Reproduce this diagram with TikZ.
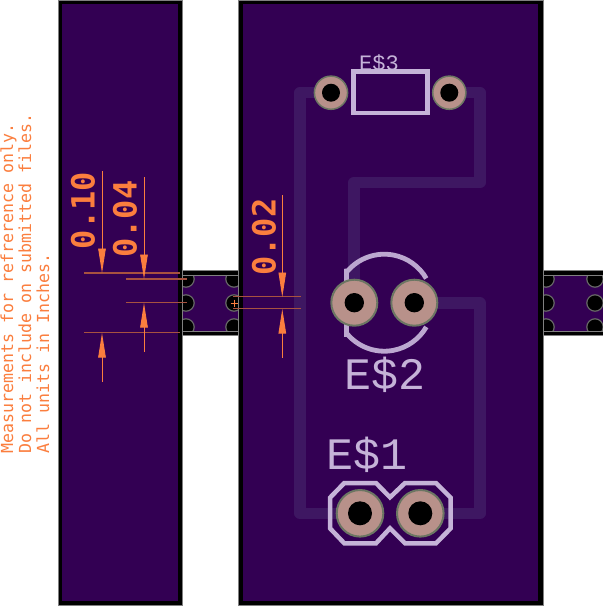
\documentclass[tikz,border=0pt]{standalone}
\usepackage{fontspec}
\usetikzlibrary{arrows.meta}
\newfontfamily\silkfont{Liberation Mono}
\newfontfamily\dimfont[BoldFont={DejaVu Sans Mono Bold}]{DejaVu Sans Mono}
\definecolor{board}{HTML}{330053}
\definecolor{tracec}{HTML}{3E1762}
\definecolor{silk}{HTML}{C5B3D8}
\definecolor{silkarc}{HTML}{BCA8D0}
\definecolor{padc}{HTML}{B8918A}
\definecolor{padedge}{HTML}{6C7663}
\definecolor{orangec}{HTML}{FB7E3E}
\definecolor{extc}{HTML}{A8523F}
\definecolor{edgec}{HTML}{808080}
\definecolor{bitec}{HTML}{666666}
\tikzset{
  x=1pt,y=-1pt,
  panel/.style={fill=black,draw=edgec,line width=0.5pt},
  inner/.style={fill=board},
  bite/.style={fill=black,draw=bitec,line width=1.2pt},
  trace/.style={draw=tracec,line width=11.5pt,line join=round,line cap=round},
  silkline/.style={draw=silk,line width=4.5pt,line join=miter},
  silkcurve/.style={draw=silkarc,line width=4.8pt},
  ext/.style={draw=extc,line width=1.3pt},
  dimarrow/.style={draw=orangec,fill=orangec,line width=0.9pt,-{Triangle[length=24.5pt,width=7.5pt]}},
  silktext/.style={text=silk,inner sep=0pt,outer sep=0pt,font=\silkfont\fontsize{#1}{#1}\selectfont},
  dimtext/.style={text=orangec,inner sep=0pt,outer sep=0pt,rotate=90,font=\dimfont\bfseries\fontsize{32}{32}\selectfont},
  note/.style={text=orangec,inner sep=0pt,outer sep=0pt,rotate=90,anchor=base west,font=\dimfont\fontsize{16.6}{16.6}\selectfont},
}
\begin{document}
\begin{tikzpicture}
\useasboundingbox (0,0) rectangle (603,606);
\fill[white] (0,0) rectangle (603,606);
% tabs
\fill[inner] (178,275) rectangle (243,331);
\fill[inner] (537,275) rectangle (603,331);
% mouse bites
\foreach \bx in {186,234,546,595}
  \foreach \by in {279,303,327}
    \path[bite] (\bx,\by) circle (8.2);
\path[panel] (178,270.5) rectangle (243,275);
\path[panel] (178,331) rectangle (243,335);
\path[panel] (537,270.5) rectangle (604,275);
\path[panel] (537,331) rectangle (604,335);
% panels
\path[panel] (58,0) rectangle (182,605);
\fill[inner] (62,3.5) rectangle (178,601);
\path[panel] (238.5,0) rectangle (543,605);
\fill[inner] (243,3.5) rectangle (537.5,601);
% traces
\draw[trace] (331,92.7) -- (300,92.7) -- (300,513.3) -- (360,513.3);
\draw[trace] (420,513.3) -- (480,513.3) -- (480,303) -- (414,303);
\draw[trace] (449,92.7) -- (480,92.7) -- (480,182.5) -- (354,182.5) -- (354,303);
% E$3
\draw[silkline] (353.5,71.5) rectangle (427.5,113);
\node[silktext=22] (e3) at (379,63) {E\$3};
\foreach \px in {331,449.3}{
  \fill[padc,draw=padedge,line width=1.5pt] (\px,92.7) circle (16.6);
  \fill[black] (\px,92.7) circle (9);
}
% E$2
\draw[silkcurve] (346.5,285) -- (346.5,271) -- ([shift={(-139:48.5)}]384.3,302.7) arc[start angle=-139,end angle=-30,radius=48.5];
\draw[silkcurve] (346.5,320) -- (346.5,334.5) -- ([shift={(139:48.5)}]384.3,302.7) arc[start angle=139,end angle=30,radius=48.5];
\foreach \px in {354.3,414.3}{
  \fill[padc,draw=padedge,line width=2pt] (\px,302.7) circle (23);
  \fill[black] (\px,302.7) circle (9.7);
}
\node[silktext=45] (e2) at (385,375) {E\$2};
% E$1
\draw[silkline] (344.3,483) -- (376,483) -- (390,497.3) -- (405,483) -- (436,483) -- (450.7,497.7) -- (450.7,528.3) -- (436,543.3) -- (405,543.3) -- (390,528.3) -- (376,543.3) -- (344.3,543.3) -- (330,528.3) -- (330,497.7) -- cycle;
\foreach \px in {360,420.3}{
  \fill[padc,draw=padedge,line width=2pt] (\px,513.3) circle (23.3);
  \fill[black] (\px,513.3) circle (12);
}
\node[silktext=45] (e1) at (367,455) {E\$1};
% dimensions
\draw[ext] (84,273) -- (180,273);
\draw[ext] (84,332.7) -- (180,332.7);
\draw[ext] (126,279) -- (187,279);
\draw[ext] (126,302.7) -- (187,302.7);
\draw[ext] (233,296.7) -- (300.7,296.7);
\draw[ext] (233,308.7) -- (300.7,308.7);
\draw[dimarrow] (102,171) -- (102,273);
\draw[dimarrow] (102,381.7) -- (102,333);
\draw[dimarrow] (144,177) -- (144,279);
\draw[dimarrow] (144,351.7) -- (144,303);
\draw[dimarrow] (282.3,195) -- (282.3,297);
\draw[dimarrow] (282.3,357.7) -- (282.3,309);
\draw[orangec,line width=0.9pt] (230.5,303) -- (237.5,303) (234,299.5) -- (234,306.5);
\node[dimtext] (d10) at (83,210.5) {0.10};
\node[dimtext] (d04) at (125,219) {0.04};
\node[dimtext] (d02) at (264,237) {0.02};
% notes
\node[note] (n1) at (13,453) {Measurements for refrerence only.};
\node[note] (n2) at (31,453) {Do not include on submitted files.};
\node[note] (n3) at (49,453) {All units in Inches.};
\end{tikzpicture}
\end{document}
